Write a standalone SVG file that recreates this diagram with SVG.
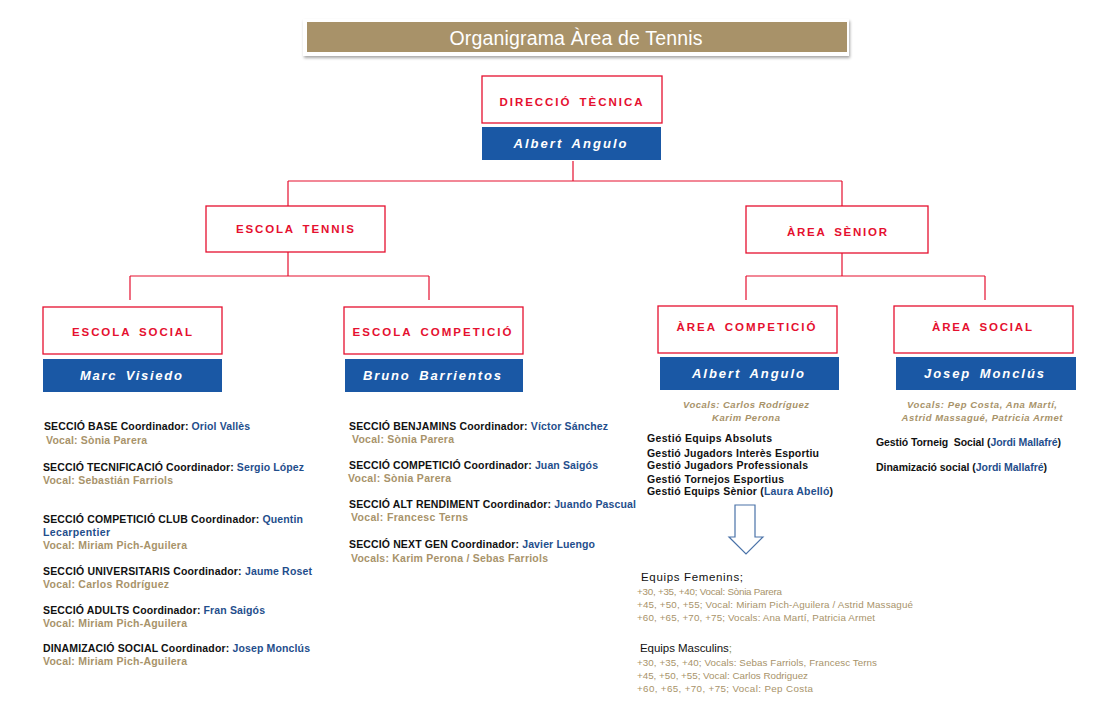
<svg xmlns="http://www.w3.org/2000/svg" width="1117" height="716" viewBox="0 0 1117 716">
<defs>
<filter id="sh" x="-5%" y="-30%" width="110%" height="170%">
<feDropShadow dx="1" dy="2" stdDeviation="1.5" flood-color="#000" flood-opacity="0.35"/>
</filter>
<style>
.box{fill:#fff;stroke:#e5102f;stroke-width:1.3}
.nb{fill:#1a58a5}
.lbl{font-family:"Liberation Sans",Arial,sans-serif;font-weight:bold;font-size:11.5px;fill:#e5102f;text-anchor:middle;letter-spacing:2px;word-spacing:3px}
.nm{font-family:"Liberation Sans",Arial,sans-serif;font-weight:bold;font-style:italic;font-size:13px;fill:#fff;text-anchor:middle;letter-spacing:2px;word-spacing:3px}
.con{fill:none;stroke:#e5102f;stroke-width:1.2}
.t{font-family:"Liberation Sans",Arial,sans-serif;font-weight:bold;font-size:10.5px;fill:#111}
.b{fill:#1f4e8c}
.v{fill:#a8936a}
.vi{font-family:"Liberation Sans",Arial,sans-serif;font-weight:bold;font-style:italic;font-size:9.5px;fill:#a8936a;text-anchor:middle}
.eq{font-family:"Liberation Sans",Arial,sans-serif;font-size:11.5px;fill:#111}
.eql{font-family:"Liberation Sans",Arial,sans-serif;font-size:9.8px;fill:#a8936a}
</style>
</defs>
<rect width="1117" height="716" fill="#fff"/>

<g id="title">
<rect x="303" y="19" width="546" height="37" fill="#fff" filter="url(#sh)"/>
<rect x="307" y="22" width="540" height="30" fill="#a89269"/>
<text x="576" y="45" font-family="Liberation Sans,Arial,sans-serif" font-size="19.5" fill="#fff" text-anchor="middle" textLength="253">Organigrama Àrea de Tennis</text>
</g>

<g id="connectors">
<path class="con" d="M573 161V181M288 181H842M288 181V206M842 181V206"/>
<path class="con" d="M288 252V276M130 276H429M130 276V300M429 276V300"/>
<path class="con" d="M842 253V276M746 276H985M746 276V300M985 276V300"/>
</g>

<g id="direccio-tecnica">
<rect class="box" x="482" y="76" width="180" height="47"/>
<text class="lbl" x="572" y="106" textLength="145">DIRECCIÓ TÈCNICA</text>
<rect class="nb" x="482" y="127" width="179" height="33"/>
<text class="nm" x="571" y="148" textLength="115">Albert Angulo</text>
</g>

<g id="escola-tennis">
<rect class="box" x="206" y="206" width="179" height="46"/>
<text class="lbl" x="296" y="233" textLength="120">ESCOLA TENNIS</text>
</g>

<g id="area-senior">
<rect class="box" x="746" y="206" width="182" height="47"/>
<text class="lbl" x="838" y="236" textLength="102">ÀREA SÈNIOR</text>
</g>

<g id="escola-social">
<rect class="box" x="43" y="307" width="179" height="47"/>
<text class="lbl" x="133" y="336" textLength="122">ESCOLA SOCIAL</text>
<rect class="nb" x="43" y="359" width="179" height="33"/>
<text class="nm" x="132" y="380" textLength="104">Marc Visiedo</text>
</g>

<g id="escola-competicio">
<rect class="box" x="344" y="307" width="179" height="47"/>
<text class="lbl" x="433" y="336" textLength="161">ESCOLA COMPETICIÓ</text>
<rect class="nb" x="345" y="359" width="178" height="33"/>
<text class="nm" x="433" y="380" textLength="140">Bruno Barrientos</text>
</g>

<g id="area-competicio">
<rect class="box" x="658" y="306" width="179" height="47"/>
<text class="lbl" x="747" y="331" textLength="141">ÀREA COMPETICIÓ</text>
<rect class="nb" x="660" y="357" width="179" height="33"/>
<text class="nm" x="749" y="378" textLength="114">Albert Angulo</text>
</g>

<g id="area-social">
<rect class="box" x="894" y="306" width="179" height="47"/>
<text class="lbl" x="983" y="331" textLength="102">ÀREA SOCIAL</text>
<rect class="nb" x="896" y="357" width="180" height="33"/>
<text class="nm" x="985" y="378" textLength="122">Josep Monclús</text>
</g>

<g id="escola-social-seccions">
<text class="t" x="44" y="430" textLength="206">SECCIÓ BASE Coordinador: <tspan class="b">Oriol Vallès</tspan></text>
<text class="t v" x="46" y="444" textLength="101">Vocal: Sònia Parera</text>
<text class="t" x="43" y="471" textLength="261">SECCIÓ TECNIFICACIÓ Coordinador: <tspan class="b">Sergio López</tspan></text>
<text class="t v" x="43" y="484" textLength="130">Vocal: Sebastián Farriols</text>
<text class="t" x="43" y="523" textLength="260">SECCIÓ COMPETICIÓ CLUB Coordinador: <tspan class="b">Quentin</tspan></text>
<text class="t b" x="43" y="536" textLength="67">Lecarpentier</text>
<text class="t v" x="43" y="549" textLength="144">Vocal: Miriam Pich-Aguilera</text>
<text class="t" x="43" y="575" textLength="269">SECCIÓ UNIVERSITARIS  Coordinador: <tspan class="b">Jaume Roset</tspan></text>
<text class="t v" x="43" y="588" textLength="126">Vocal: Carlos Rodríguez</text>
<text class="t" x="43" y="614" textLength="222">SECCIÓ ADULTS Coordinador: <tspan class="b">Fran Saigós</tspan></text>
<text class="t v" x="43" y="627" textLength="144">Vocal: Miriam Pich-Aguilera</text>
<text class="t" x="43" y="652" textLength="267">DINAMIZACIÓ SOCIAL Coordinador: <tspan class="b">Josep Monclús</tspan></text>
<text class="t v" x="43" y="665" textLength="144">Vocal: Miriam Pich-Aguilera</text>
</g>

<g id="escola-competicio-seccions">
<text class="t" x="349" y="430" textLength="259">SECCIÓ BENJAMINS Coordinador: <tspan class="b">Víctor Sánchez</tspan></text>
<text class="t v" x="352" y="443" textLength="102">Vocal: Sònia Parera</text>
<text class="t" x="349" y="469" textLength="249">SECCIÓ COMPETICIÓ Coordinador: <tspan class="b">Juan Saigós</tspan></text>
<text class="t v" x="348" y="482" textLength="103">Vocal: Sònia Parera</text>
<text class="t" x="349" y="508" textLength="287">SECCIÓ ALT RENDIMENT  Coordinador: <tspan class="b">Juando Pascual</tspan></text>
<text class="t v" x="351" y="521" textLength="117">Vocal: Francesc Terns</text>
<text class="t" x="349" y="548" textLength="246">SECCIÓ NEXT GEN  Coordinador: <tspan class="b">Javier Luengo</tspan></text>
<text class="t v" x="351" y="562" textLength="197">Vocals: Karim Perona / Sebas Farriols</text>
</g>

<g id="area-competicio-detall">
<text class="vi" x="746" y="408" textLength="126">Vocals: Carlos Rodríguez</text>
<text class="vi" x="746" y="421" textLength="68">Karim Perona</text>
<text class="t" x="647" y="442" textLength="125">Gestió Equips Absoluts</text>
<text class="t" x="647" y="457" textLength="172">Gestió Jugadors Interès Esportiu</text>
<text class="t" x="647" y="469" textLength="161">Gestió Jugadors Professionals</text>
<text class="t" x="647" y="483" textLength="137">Gestió Tornejos Esportius</text>
<text class="t" x="647" y="495" textLength="186">Gestió Equips Sènior (<tspan class="b">Laura Abelló</tspan>)</text>
<polygon points="735,505 755,505 755,537 763,537 746,554 729,537 735,537" fill="#fff" stroke="#4a72a8" stroke-width="1.2"/>
</g>

<g id="area-social-detall">
<text class="vi" x="982" y="408" textLength="150">Vocals: Pep Costa, Ana Martí,</text>
<text class="vi" x="982" y="421" textLength="161">Astrid Massagué, Patricia Armet</text>
<text class="t" x="876" y="446" font-size="10" textLength="185" xml:space="preserve">Gestió Torneig  Social (<tspan class="b">Jordi Mallafré</tspan>)</text>
<text class="t" x="876" y="471" font-size="10" textLength="171">Dinamizació social (<tspan class="b">Jordi Mallafré</tspan>)</text>
</g>

<g id="equips">
<text class="eq" x="641" y="581" textLength="102">Equips Femenins;</text>
<text class="eql" x="637" y="595" textLength="145">+30, +35, +40; Vocal: Sònia Parera</text>
<text class="eql" x="637" y="608" textLength="276">+45, +50, +55; Vocal: Miriam Pich-Aguilera / Astrid Massagué</text>
<text class="eql" x="637" y="621" textLength="238">+60, +65, +70, +75; Vocals: Ana Martí, Patricia Armet</text>
<text class="eq" x="640" y="652" textLength="92">Equips Masculins<tspan fill="#8a9a4a">;</tspan></text>
<text class="eql" x="637" y="666" textLength="240">+30, +35, +40; Vocals: Sebas Farriols, Francesc Terns</text>
<text class="eql" x="637" y="679" textLength="171">+45, +50, +55; Vocal: Carlos Rodriguez</text>
<text class="eql" x="637" y="692" textLength="176">+60, +65, +70, +75; Vocal: Pep Costa</text>
</g>
</svg>
